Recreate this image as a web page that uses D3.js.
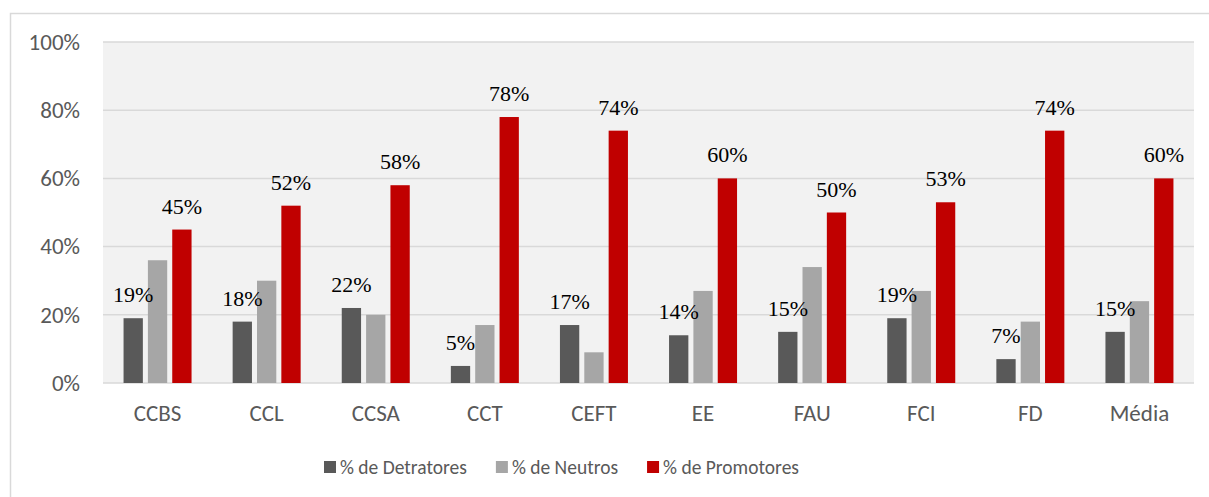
<!DOCTYPE html>
<html>
<head>
<meta charset="utf-8">
<script src="https://cdn.jsdelivr.net/npm/d3@7"></script>
<style>
  body { margin: 0; background: #fff; }
  svg { display: block; }
</style>
</head>
<body>
<svg id="chart" width="1209" height="497"></svg>
<script>
// categories and series values (fractions)
const categories = ["CCBS", "CCL", "CCSA", "CCT", "CEFT", "EE", "FAU", "FCI", "FD", "Média"];
const detratores = [0.19, 0.18, 0.22, 0.05, 0.17, 0.14, 0.15, 0.19, 0.07, 0.15];
const neutros    = [0.36, 0.30, 0.20, 0.17, 0.09, 0.27, 0.34, 0.27, 0.18, 0.24];
const promotores = [0.45, 0.52, 0.58, 0.78, 0.74, 0.60, 0.50, 0.53, 0.74, 0.60];
const seriesNames = ["% de Detratores", "% de Neutros", "% de Promotores"];
const seriesColors = ["#595959", "#a6a6a6", "#c00000"];
const yTicks = [0, 0.2, 0.4, 0.6, 0.8, 1.0];

const series = [
  { name: seriesNames[0], values: detratores, color: seriesColors[0], label: true },
  { name: seriesNames[1], values: neutros, color: seriesColors[1], label: false },
  { name: seriesNames[2], values: promotores, color: seriesColors[2], label: true }
];

const svg = d3.select("#chart");
const sansFont = "Carlito, 'Open Sans', sans-serif";

// outer chart frame (cut by the window on the right and bottom)
svg.append("rect")
  .attr("x", 10.5).attr("y", 13.5)
  .attr("width", 1300).attr("height", 600)
  .style("fill", "#fff")
  .style("stroke", "#d9d9d9")
  .style("stroke-width", 1.5);

const plot = { left: 103, right: 1194, top: 42, bottom: 383 };

const x = d3.scaleBand()
  .domain(categories)
  .range([plot.left, plot.right]);

const xSub = d3.scaleBand()
  .domain(seriesNames)
  .range([-34, 34])
  .paddingInner(0.207);

const y = d3.scaleLinear()
  .domain([0, 1])
  .range([plot.bottom, plot.top]);

// plot area background
svg.append("rect")
  .attr("x", plot.left).attr("y", plot.top)
  .attr("width", plot.right - plot.left)
  .attr("height", plot.bottom - plot.top)
  .style("fill", "#f2f2f2");

// gridlines
svg.append("g")
  .selectAll("line")
  .data(yTicks)
  .enter().append("line")
  .attr("x1", plot.left).attr("x2", plot.right)
  .attr("y1", d => y(d)).attr("y2", d => y(d))
  .style("stroke", "#d9d9d9")
  .style("stroke-width", 1.5);

// y axis labels
const yAxis = svg.append("g")
  .attr("transform", "translate(82,0)")
  .call(d3.axisLeft(y).tickValues(yTicks).tickFormat(d3.format(".0%")).tickSize(0).tickPadding(2));
yAxis.select(".domain").remove();
yAxis.selectAll("text")
  .style("font-size", "23px")
  .style("font-family", sansFont)
  .style("fill", "#595959");

// x axis labels
const xAxis = svg.append("g")
  .attr("transform", `translate(0,${plot.bottom})`)
  .call(d3.axisBottom(x).tickSize(0).tickPadding(22));
xAxis.select(".domain").remove();
xAxis.selectAll("text")
  .style("font-size", "23px")
  .style("font-family", sansFont)
  .style("fill", "#595959");

// bars
series.forEach(s => {
  svg.append("g")
    .selectAll("rect")
    .data(s.values)
    .enter().append("rect")
    .attr("x", (d, i) => x(categories[i]) + x.bandwidth() / 2 + xSub(s.name))
    .attr("y", d => y(d))
    .attr("width", xSub.bandwidth())
    .attr("height", d => y(0) - y(d))
    .style("fill", s.color);
});

// data labels (drawn after all bars so they sit on top)
series.filter(s => s.label).forEach(s => {
  svg.append("g")
    .selectAll("text")
    .data(s.values)
    .enter().append("text")
    .attr("x", (d, i) => x(categories[i]) + x.bandwidth() / 2 + xSub(s.name) + xSub.bandwidth() / 2)
    .attr("y", d => y(d) - 16)
    .attr("text-anchor", "middle")
    .style("font-size", "22px")
    .style("font-family", "'Liberation Serif', serif")
    .style("fill", "#000")
    .text(d => d3.format(".0%")(d));
});

// legend
const legend = svg.append("g");
let lx = 324;
series.forEach(s => {
  legend.append("rect")
    .attr("x", lx).attr("y", 461)
    .attr("width", 12).attr("height", 12)
    .style("fill", s.color);
  const t = legend.append("text")
    .attr("x", lx + 16).attr("y", 474)
    .style("font-size", "19.5px")
    .style("font-family", sansFont)
    .style("fill", "#595959")
    .text(s.name);
  lx += 16 + t.node().getComputedTextLength() + 29;
});
</script>
</body>
</html>
